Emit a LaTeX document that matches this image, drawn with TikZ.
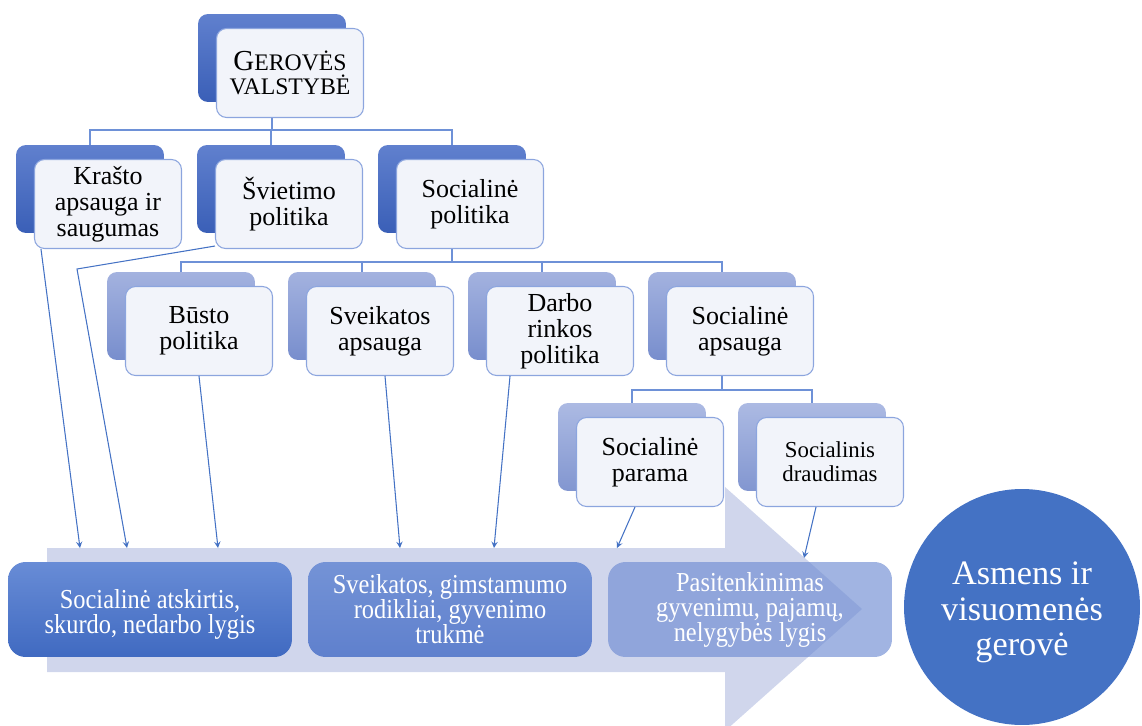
\documentclass[tikz,border=0pt]{standalone}
\usepackage{fontspec}
\setmainfont{Liberation Serif}
\newfontfamily\tallfont[FakeStretch=0.89]{Liberation Serif}
\usetikzlibrary{backgrounds}
\definecolor{darktop}{RGB}{96,128,206}
\definecolor{darkbot}{RGB}{58,95,183}
\definecolor{midtop}{RGB}{163,178,223}
\definecolor{midbot}{RGB}{120,142,205}
\definecolor{paletop}{RGB}{172,186,227}
\definecolor{palebot}{RGB}{130,150,208}
\definecolor{frontfill}{RGB}{242,244,250}
\definecolor{edge}{RGB}{140,165,222}
\definecolor{treeblue}{RGB}{110,145,215}
\definecolor{linkblue}{RGB}{68,114,196}
\definecolor{arrowfill}{RGB}{208,214,236}
\definecolor{resA}{RGB}{104,140,214}
\definecolor{resB}{RGB}{64,106,193}
\definecolor{resC}{RGB}{116,147,214}
\definecolor{resD}{RGB}{95,128,205}
\definecolor{resE}{RGB}{110,140,210}
\definecolor{circblue}{RGB}{68,114,196}
\begin{document}
\begin{tikzpicture}[x=0.02cm,y=-0.02cm,>=stealth,
    back/.style={minimum width=2.96cm,minimum height=1.76cm,inner sep=0pt,rounded corners=0.2cm},
    dark/.style={back,top color=darktop,bottom color=darkbot},
    mid/.style={back,top color=midtop,bottom color=midbot},
    pale/.style={back,top color=paletop,bottom color=palebot},
    front/.style={draw=edge,line width=0.6pt,fill=frontfill,rounded corners=0.2cm,
        minimum width=2.94cm,minimum height=1.78cm,inner sep=0pt,align=center,
        font=\fontsize{14.8}{14.8}\selectfont},
    tree/.style={draw=treeblue,line width=0.7pt},
    link/.style={->,draw=linkblue,line width=0.6pt},
    result/.style={rounded corners=0.35cm,minimum width=5.68cm,minimum height=1.9cm,
        inner sep=0pt,align=center,text=white,font=\tallfont\fontsize{15.6}{14.2}\selectfont}]
    \useasboundingbox (0,0) rectangle (1142,726);
    % back box at (#2,#3), front box shifted by (18,15)
    \def\hop#1#2#3#4#5#6{
        \node[#4] (b#1) at (#2+74,#3+44) {};
        \node[front,#5] (f#1) at (#2+92,#3+59) {#6};
    }
    %===========================================
    \hop{0}{198}{14}{dark}{font=\fontsize{13.5}{13.7}\selectfont}{{\fontsize{16.5}{16}\selectfont G}EROVĖS\\VALSTYBĖ}
    \hop{1}{16}{145}{dark}{}{Krašto\\apsauga ir\\saugumas}
    \hop{2}{197}{145}{dark}{}{Švietimo\\politika}
    \hop{3}{378}{145}{dark}{}{Socialinė\\politika}
    \hop{4}{107}{272}{mid}{}{Būsto\\politika}
    \hop{5}{288}{272}{mid}{}{Sveikatos\\apsauga}
    \hop{6}{468}{272}{mid}{}{Darbo\\rinkos\\politika}
    \hop{7}{648}{272}{mid}{}{Socialinė\\apsauga}
    \hop{8}{558}{403}{pale}{}{Socialinė\\parama}
    \hop{9}{738}{403}{pale}{font=\fontsize{13}{13.5}\selectfont}{Socialinis\\draudimas}
    %===========================================
    \node[result,top color=resA,bottom color=resB] (r1) at (150,609.5) {\rule{0pt}{16pt}Socialinė atskirtis,\\skurdo, nedarbo lygis};
    \node[result,top color=resC,bottom color=resD] (r2) at (450,609.5) {Sveikatos, gimstamumo\\rodikliai, gyvenimo\\trukmė};
    \node[result,fill=resE,fill opacity=0.65,text opacity=1] (r3) at (750,609.5) {Pasitenkinimas\\gyvenimu, pajamų,\\nelygybės lygis};
    \node[circle,fill=circblue,minimum size=4.72cm,inner sep=0pt,align=center,text=white,
        font=\fontsize{19.5}{20}\selectfont] (goal) at (1022,607) {\rule{0pt}{19pt}Asmens ir\\visuomenės\\gerovė};
    %===========================================
    \coordinate (j0) at (272,130);
    \coordinate (j1) at (452,262);
    \coordinate (j2) at (722,390);
    \begin{scope}[on background layer]
        \fill[arrowfill] (47,548) -- (725,548) -- (725,487) -- (862,609) -- (725,731) -- (725,672) -- (47,672) -- cycle;
        \draw[tree] (b0.center) -- (j0) (b1.center) |- (j0) -| (b3.center) (b2.center) -- (b2 |- j0);
        \draw[tree] (b3.center) -- (j1) (b4.center) |- (j1) -| (b7.center) (b5.center) -- (b5 |- j1) (b6.center) -- (b6 |- j1);
        \draw[tree] (b7.center) -- (j2) (b8.center) |- (j2) -| (b9.center);
    \end{scope}
    %===========================================
    \coordinate (k2) at (77,269);
    \coordinate (t1) at (80,548);
    \coordinate (t2) at (127,548);
    \coordinate (t4) at (218,548);
    \coordinate (t5) at (400,548);
    \coordinate (t6) at (494,548);
    \coordinate (t8) at (617,548);
    \coordinate (t9) at (804,558);
    \draw[link] ([xshift=1.4mm]f1.south west) -- (t1);
    \draw[link] ([yshift=0.6mm]f2.south west) -- (k2) -- (t2);
    \draw[link] (f4.south) -- (t4);
    \draw[link] ([xshift=1mm]f5.south) -- (t5);
    \draw[link] ([xshift=-1cm]f6.south) -- (t6);
    \draw[link] ([xshift=-3mm]f8.south) -- (t8);
    \draw[link] ([xshift=-2.8mm]f9.south) -- (t9);
\end{tikzpicture}
\end{document}
